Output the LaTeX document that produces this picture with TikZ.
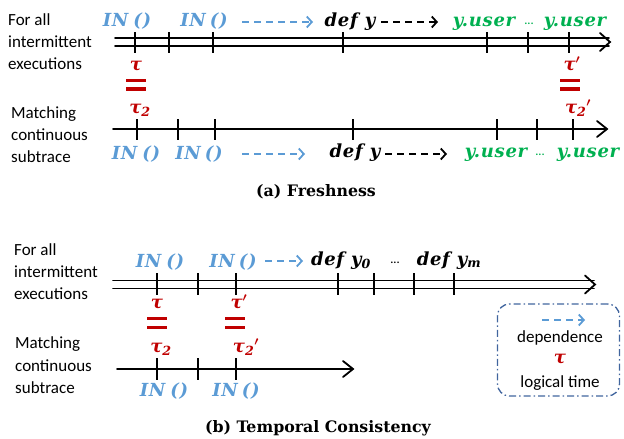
\documentclass[tikz,border=0pt]{standalone}
\usepackage[no-math]{fontspec}
\newfontfamily\labfont{Carlito}
\newfontfamily\mfont{DejaVu Serif}[LetterSpace=4]
\newfontfamily\capfont{DejaVu Serif}
\usetikzlibrary{arrows.meta}
\definecolor{depblue}{HTML}{5B9BD5}
\definecolor{usegreen}{HTML}{00B050}
\definecolor{timered}{HTML}{C00000}
\definecolor{boxblue}{HTML}{41659E}
\newcommand{\sbs}[1]{\textsubscript{#1}}
\newcommand{\prm}{{\boldmath$'$}}
\begin{document}
\begin{tikzpicture}[x=1pt,y=-1pt,
  lbl/.style={font=\labfont\fontsize{17}{20}\selectfont, anchor=base west, inner sep=0},
  mth/.style={font=\mfont\bfseries\itshape\fontsize{18}{20}\selectfont, anchor=base, inner sep=0},
  tml/.style={mth, text=timered},
  captext/.style={font=\capfont\bfseries\fontsize{15.8}{18}\selectfont, anchor=base, inner sep=0},
  tline/.style={line width=1.8pt, line cap=round},
  tickmark/.style={line width=1.8pt},
  eqbar/.style={timered, line width=3.5pt},
  dep/.style={depblue, line width=1.8pt, dash pattern=on 7pt off 5pt,
     -{Straight Barb[length=5pt,width=11pt,line width=1.8pt]}},
  blk/.style={black, line width=1.8pt, dash pattern=on 7pt off 5pt,
     -{Straight Barb[length=5pt,width=11pt,line width=1.8pt]}},
  dotsstyle/.style={mth, font=\capfont\bfseries\fontsize{9}{10}\selectfont}
]
\useasboundingbox (0,0) rectangle (624,439);

% ================= (a) Freshness =================
\node[lbl] (a1) at (8,25) {For all};
\node[lbl] (a2) at (8,47) {intermittent};
\node[lbl] (a3) at (8,69) {executions};
\node[lbl] (a4) at (11,118) {Matching};
\node[lbl] (a5) at (11,140) {continuous};
\node[lbl] (a6) at (11,162) {subtrace};

% top double timeline
\coordinate (atE) at (610,42);
\draw[tline] (115,38.3) -- (609,38.3);
\draw[tline] (115,46.3) -- (609,46.3);
\draw[tline] ([xshift=-10pt,yshift=-9pt]atE) -- (atE) -- ([xshift=-10pt,yshift=9pt]atE);
\foreach \x in {135,169,213,343,487,528,569}
  \draw[tickmark] (\x,32) -- (\x,53);

% top labels
\node[mth, text=depblue] (ain1) at (127,26) {IN\hspace{-2pt} ()};
\node[mth, text=depblue] (ain2) at (204,26) {IN\hspace{4pt}()};
\coordinate (ad1s) at (242,22); \coordinate (ad1e) at (313,22);
\draw[dep] (ad1s) -- (ad1e);
\node[mth] (adef) at (350,26) {def y};
\coordinate (ad2s) at (381,22); \coordinate (ad2e) at (438,22);
\draw[blk] (ad2s) -- (ad2e);
\node[mth, text=usegreen] (au1) at (484,26) {y.user};
\node[dotsstyle, text=usegreen] (adots) at (529,24) {...};
\node[mth, text=usegreen] (au2) at (575,26) {y.user};

% tau equalities
\node[tml] (atau) at (136,70) {τ};
\draw[eqbar] (126,80.5) -- (146,80.5);
\draw[eqbar] (126,89) -- (146,89);
\node[tml] (atau2) at (140,113) {τ\sbs{2}};
\node[tml] (ataup) at (572,70) {τ\prm};
\draw[eqbar] (560,80.5) -- (580,80.5);
\draw[eqbar] (560,89) -- (580,89);
\node[tml] (atau2p) at (578,113) {τ\sbs{2}\prm};

% bottom single timeline
\coordinate (abE) at (607,129);
\draw[tline] (113,129) -- (606,129);
\draw[tline] ([xshift=-10pt,yshift=-8pt]abE) -- (abE) -- ([xshift=-10pt,yshift=8pt]abE);
\foreach \x in {137,178,215,353,497,537,573}
  \draw[tickmark] (\x,119) -- (\x,140);

\node[mth, text=depblue] (abin1) at (136,159) {IN\hspace{-2pt} ()};
\node[mth, text=depblue] (abin2) at (199,159) {IN\hspace{4pt}()};
\coordinate (ad3s) at (242,154); \coordinate (ad3e) at (305,154);
\draw[dep] (ad3s) -- (ad3e);
\node[mth] (abdef) at (355,157) {def y};
\coordinate (ad4s) at (385,154); \coordinate (ad4e) at (447,154);
\draw[blk] (ad4s) -- (ad4e);
\node[mth, text=usegreen] (abu1) at (496,157) {y.user};
\node[dotsstyle, text=usegreen] (abdots) at (540,155) {...};
\node[mth, text=usegreen] (abu2) at (588,157) {y.user};

\node[captext] (capa) at (316,196) {(a) Freshness};

% ================= (b) Temporal Consistency =================
\node[lbl] (b1) at (14,255) {For all};
\node[lbl] (b2) at (14,277) {intermittent};
\node[lbl] (b3) at (14,299) {executions};
\node[lbl] (b4) at (15,348) {Matching};
\node[lbl] (b5) at (15,371) {continuous};
\node[lbl] (b6) at (15,393) {subtrace};

\coordinate (btE) at (595,284.5);
\draw[tline] (113,280.5) -- (594,280.5);
\draw[tline] (113,288.5) -- (594,288.5);
\draw[tline] ([xshift=-10pt,yshift=-9pt]btE) -- (btE) -- ([xshift=-10pt,yshift=9pt]btE);
\foreach \x in {157,198,236,338,374,414,454}
  \draw[tickmark] (\x,273) -- (\x,295);

\node[mth, text=depblue] (bin1) at (160,267) {IN\hspace{-2pt} ()};
\node[mth, text=depblue] (bin2) at (233,267) {IN\hspace{4pt}()};
\coordinate (bd1s) at (265,261); \coordinate (bd1e) at (303,261);
\draw[dep] (bd1s) -- (bd1e);
\node[mth] (bdef0) at (341,265) {def y\sbs{0}};
\node[dotsstyle] (bdots) at (395,263) {...};
\node[mth] (bdefm) at (449,265) {def y\sbs{m}};

\node[tml] (btau) at (157,308) {τ};
\draw[eqbar] (147,318.5) -- (167,318.5);
\draw[eqbar] (147,327.5) -- (167,327.5);
\node[tml] (btau2) at (161,352) {τ\sbs{2}};
\node[tml] (btaup) at (239,308) {τ\prm};
\draw[eqbar] (225,318.5) -- (245,318.5);
\draw[eqbar] (225,327.5) -- (245,327.5);
\node[tml] (btau2p) at (246,352) {τ\sbs{2}\prm};

\coordinate (bbE) at (353,369);
\draw[tline] (117,369) -- (352,369);
\draw[tline] ([xshift=-10pt,yshift=-8pt]bbE) -- (bbE) -- ([xshift=-10pt,yshift=8pt]bbE);
\foreach \x in {157,198,236}
  \draw[tickmark] (\x,358) -- (\x,380);

\node[mth, text=depblue] (bbin1) at (164,396) {IN\hspace{-2pt} ()};
\node[mth, text=depblue] (bbin2) at (236,396) {IN\hspace{4pt}()};

\node[captext] (capb) at (318,432) {(b) Temporal Consistency};

% legend
\node[draw=boxblue, line width=1.3pt, dash pattern=on 7pt off 3pt on 1.5pt off 3pt,
      rounded corners=12pt, minimum width=122pt, minimum height=92pt] (legend) at (558.5,350) {};
\coordinate (lgs) at (542,320); \coordinate (lge) at (585,320);
\draw[dep] (lgs) -- (lge);
\node[lbl, anchor=base] (ldep) at (560,342) {dependence};
\node[tml] (ltau) at (560,363) {τ};
\node[lbl, anchor=base] (ltime) at (560,387) {logical time};
\end{tikzpicture}
\end{document}
